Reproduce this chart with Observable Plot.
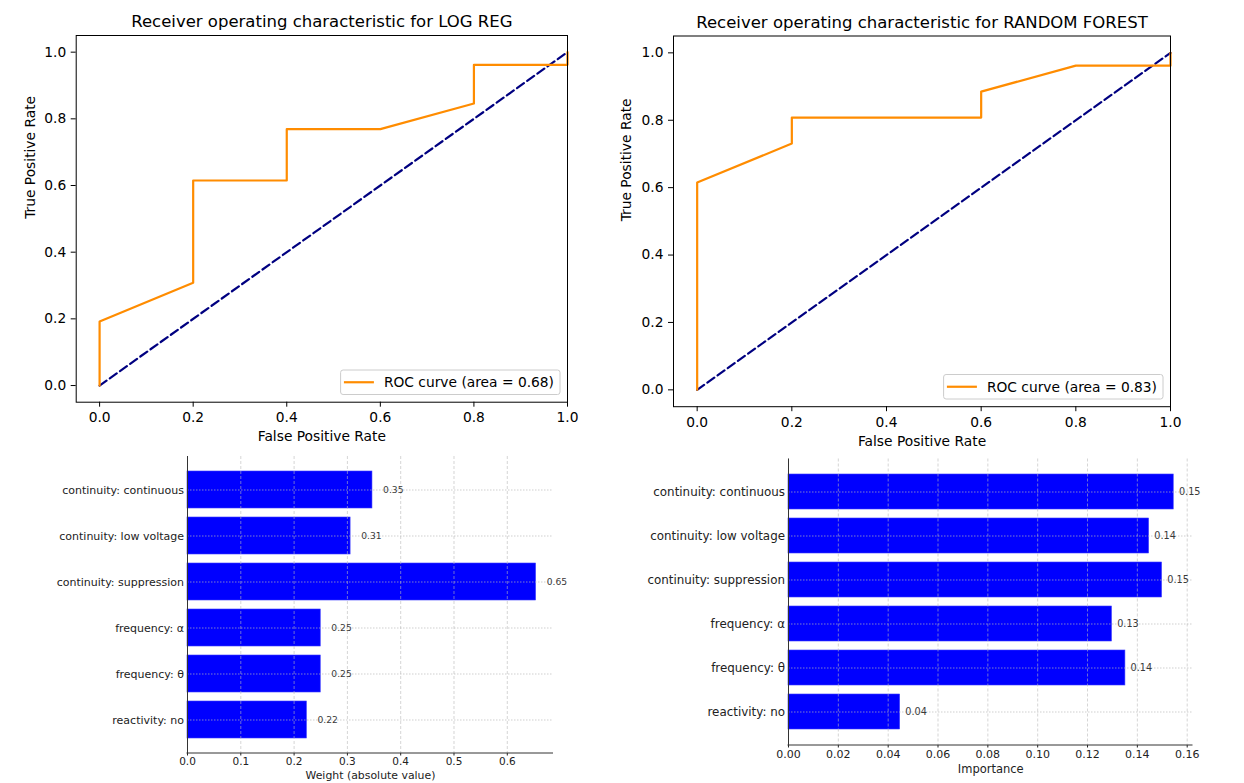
<!DOCTYPE html>
<html>
<head>
<meta charset="utf-8">
<script src="https://cdn.jsdelivr.net/npm/d3@7"></script>
<script src="https://cdn.jsdelivr.net/npm/@observablehq/plot@0.6"></script>
<style>
  html, body { margin: 0; padding: 0; background: #fff; }
  #root { position: relative; width: 1244px; height: 783px; overflow: hidden; font-family: "DejaVu Sans", sans-serif; }
  .panel { position: absolute; }
  .panel svg { overflow: visible; }
</style>
</head>
<body>
<div id="root"></div>
<script>
// ---------- DATA ----------
const rocTicks = [0, 0.2, 0.4, 0.6, 0.8, 1.0];
const chanceX = [0, 1];
const chanceY = [0, 1];

const logTitle = "Receiver operating characteristic for LOG REG";
const logFpr = [0, 0, 0.2, 0.2, 0.4, 0.4, 0.6, 0.8, 0.8, 1.0, 1.0];
const logTpr = [0, 0.192, 0.308, 0.615, 0.615, 0.769, 0.769, 0.846, 0.962, 0.962, 1.0];
const logAuc = "0.68";

const rfTitle = "Receiver operating characteristic for RANDOM FOREST";
const rfFpr = [0, 0, 0.2, 0.2, 0.6, 0.6, 0.8, 1.0, 1.0];
const rfTpr = [0, 0.615, 0.731, 0.808, 0.808, 0.885, 0.962, 0.962, 1.0];
const rfAuc = "0.83";

const features = ["continuity: continuous", "continuity: low voltage", "continuity: suppression", "frequency: α", "frequency: θ", "reactivity: no"];
const logWeights = [0.347, 0.306, 0.654, 0.250, 0.250, 0.224];
const rfImportance = [0.1546, 0.1447, 0.1499, 0.1298, 0.1352, 0.0448];
const weightTicks = [0, 0.1, 0.2, 0.3, 0.4, 0.5, 0.6];
const importanceTicks = [0, 0.02, 0.04, 0.06, 0.08, 0.10, 0.12, 0.14, 0.16];

// ---------- HELPERS ----------
const root = document.getElementById("root");
function place(node, left, top) {
  const div = document.createElement("div");
  div.className = "panel";
  div.style.left = left + "px";
  div.style.top = top + "px";
  div.appendChild(node);
  root.appendChild(div);
}

function rocPanel(o) {
  const roc = o.fpr.map((f, i) => ({fpr: f, tpr: o.tpr[i]}));
  const chance = chanceX.map((v, i) => ({fpr: v, tpr: chanceY[i]}));
  const fs = 13.8;
  const plot = Plot.plot({
    width: o.w, height: o.h,
    marginLeft: o.ml, marginRight: o.mr, marginTop: o.mt, marginBottom: o.mb,
    x: {domain: [-0.05, 1.0]},
    y: {domain: [-0.05, 1.05]},
    style: {fontFamily: "DejaVu Sans", fontSize: fs + "px", color: "#000", background: "transparent", overflow: "visible"},
    marks: [
      Plot.line(chance, {x: "fpr", y: "tpr", stroke: "#000080", strokeWidth: 2.2, strokeDasharray: "8.5,4"}),
      Plot.line(roc, {x: "fpr", y: "tpr", stroke: "#ff8c00", strokeWidth: 2.2}),
      Plot.frame({stroke: "#000", strokeWidth: 1}),
      Plot.axisX({ticks: rocTicks, tickFormat: d3.format(".1f"), tickSize: 5, tickPadding: 5, fontSize: fs, label: null}),
      Plot.axisY({ticks: rocTicks, tickFormat: d3.format(".1f"), tickSize: 5, tickPadding: 5, fontSize: fs, label: null}),
      Plot.text([o.title], {frameAnchor: "top", dy: -8.5, lineAnchor: "bottom", fontSize: 16.5, fill: "#000"}),
      Plot.text(["False Positive Rate"], {frameAnchor: "bottom", dy: o.xlabDy, lineAnchor: "middle", fontSize: fs, fill: "#000"}),
      Plot.text(["True Positive Rate"], {frameAnchor: "left", dx: o.ylabDx, rotate: -90, lineAnchor: "middle", fontSize: fs, fill: "#000"})
    ]
  });
  place(plot, o.left, o.top);
  // legend (bottom-right inside frame)
  const xr = plot.scale("x").range, yr = plot.scale("y").range;
  const R = Math.max(...xr), B = Math.max(...yr);
  const g = d3.select(plot).append("g").attr("text-anchor", "start");
  const rect = g.append("rect");
  const txt = g.append("text").attr("font-size", fs).attr("fill", "#000")
    .attr("text-anchor", "start").text(`ROC curve (area = ${o.auc})`);
  const tw = txt.node().getComputedTextLength();
  const bw = 3.3 + 30 + 10 + tw + 6, bh = 24.5;
  const bx = R - 7 - bw, by = B - 7.2 - bh;
  rect.attr("x", bx).attr("y", by).attr("width", bw).attr("height", bh)
      .attr("rx", 2.5).attr("fill", "#fff").attr("fill-opacity", 0.8)
      .attr("stroke", "#cccccc").attr("stroke-width", 1);
  g.append("line").attr("x1", bx + 3.3).attr("x2", bx + 33.3)
      .attr("y1", by + bh / 2).attr("y2", by + bh / 2)
      .attr("stroke", "#ff8c00").attr("stroke-width", 2.2);
  txt.attr("x", bx + 43.3).attr("y", by + bh / 2 + 4.9);
}

function barPanel(o) {
  const data = features.map((f, i) => ({feature: f, value: o.values[i]}));
  const fmt = d3.format(".2f");
  const xmax = d3.max(o.values) * 1.05;
  const plot = Plot.plot({
    width: o.w, height: o.h,
    marginLeft: o.ml, marginRight: o.mr, marginTop: o.mt, marginBottom: o.mb,
    x: {domain: [0, xmax]},
    y: {type: "band", domain: features, paddingInner: 0.2, paddingOuter: 0.29},
    style: {fontFamily: "DejaVu Sans", fontSize: o.fsTick + "px", color: "#222", background: "transparent", overflow: "visible"},
    marks: [
      Plot.barX(data, {x: "value", y: "feature", fill: "#0000ff", stroke: "#3a3aff", strokeWidth: 0.6}),
      Plot.gridX({ticks: o.ticks, stroke: "#b8b8b8", strokeOpacity: 0.75, strokeWidth: 0.8, strokeDasharray: "3,2"}),
      Plot.gridY({stroke: "#b8b8b8", strokeOpacity: 0.85, strokeWidth: 0.8, strokeDasharray: "1.5,1.5"}),
      Plot.text(data, {x: "value", y: "feature", dx: o.valDx, text: d => fmt(d.value), textAnchor: "start", fontSize: o.fsVal, fill: "#3a3a3a"}),
      Plot.ruleX([0], {stroke: "#333", strokeWidth: 1}),
      Plot.axisX({ticks: o.ticks, tickFormat: d3.format(o.tickFmt), tickSize: 2.5, tickPadding: 2, fontSize: o.fsXTick, label: null}),
      Plot.axisY({tickSize: 0, tickPadding: 3.5, fontSize: o.fsTick, label: null}),
      Plot.text([o.xlabel], {frameAnchor: "bottom", dy: o.xlabDy, lineAnchor: "middle", fontSize: o.fsLab, fill: "#222"})
    ]
  });
  place(plot, o.left, o.top);
  const xr = plot.scale("x").range, yr = plot.scale("y").range;
  d3.select(plot).append("line")
    .attr("x1", Math.min(...xr) - 0.5).attr("x2", Math.max(...xr))
    .attr("y1", Math.max(...yr)).attr("y2", Math.max(...yr))
    .attr("stroke", "#333").attr("stroke-width", 1);
}

// ---------- PANELS ----------
rocPanel({fpr: logFpr, tpr: logTpr, title: logTitle, auc: logAuc,
  left: 0, top: 0, w: 620, h: 450, ml: 75.7, mr: 53, mt: 35, mb: 48.3, xlabDy: 34.5, ylabDx: -45.5});
rocPanel({fpr: rfFpr, tpr: rfTpr, title: rfTitle, auc: rfAuc,
  left: 622, top: 0, w: 622, h: 450, ml: 51, mr: 74, mt: 35.5, mb: 43.8, xlabDy: 34.8, ylabDx: -46.5});

barPanel({values: logWeights, ticks: weightTicks, tickFmt: ".1f", xlabel: "Weight (absolute value)",
  left: 0, top: 450, w: 620, h: 333, ml: 187, mr: 67, mt: 6, mb: 30,
  fsTick: 11.0, fsXTick: 10.5, fsLab: 10.9, fsVal: 9.2, valDx: 10.6, xlabDy: 22});
barPanel({values: rfImportance, ticks: importanceTicks, tickFmt: ".2f", xlabel: "Importance",
  left: 622, top: 450, w: 622, h: 333, ml: 166, mr: 51.5, mt: 8.5, mb: 38,
  fsTick: 11.9, fsXTick: 11, fsLab: 11.5, fsVal: 9.7, valDx: 5.2, xlabDy: 24});
</script>
</body>
</html>
